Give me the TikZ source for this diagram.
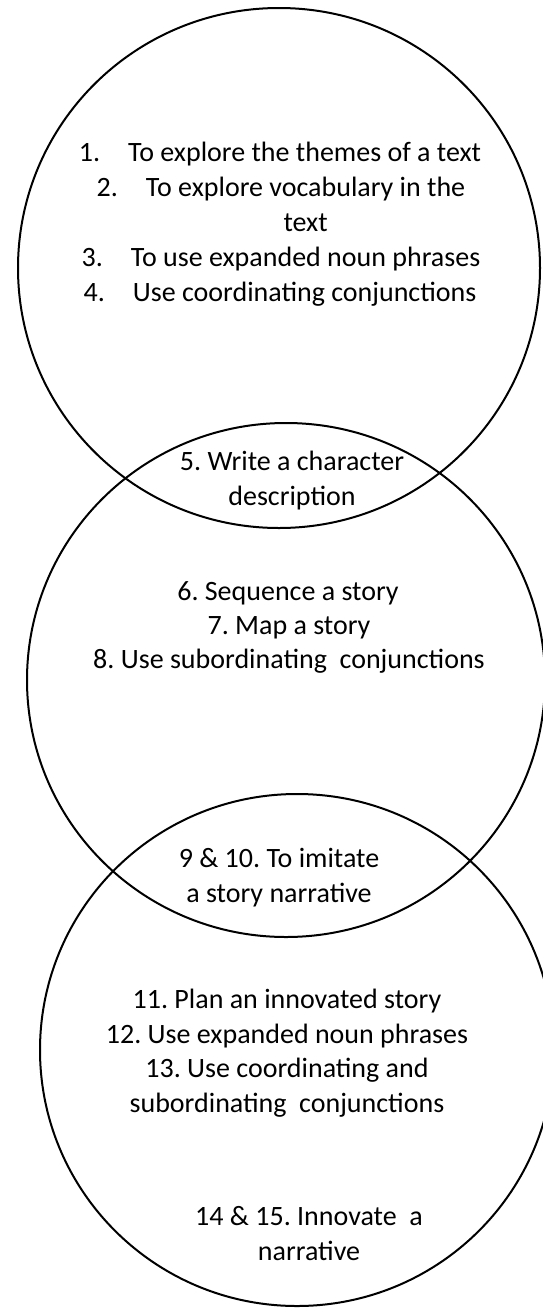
\documentclass[tikz,border=0pt]{standalone}
\usepackage{fontspec}
\setmainfont{Carlito}
\frenchspacing
\usetikzlibrary{calc}

\begin{document}
\begin{tikzpicture}[x=1pt,y=-1pt,
  ring/.style={line width=2pt,color=black},
  lbl/.style={align=center,inner sep=0pt,anchor=base,font=\fontsize{28}{35}\selectfont}]
\useasboundingbox (0,0) rectangle (542,1309);

% Step 1. the three rings
\draw[ring] (279,268) ellipse [x radius=261,y radius=260];
\draw[ring] (286,680) ellipse [x radius=259,y radius=257];
\draw[ring] (297,1050) ellipse [x radius=257,y radius=256];

% Step 2. top ring
\node[lbl] (ItemA) at (280,161) {1.\quad To explore the themes of a text};
\node[lbl] (ItemB) at (281,231) {2.\quad To explore vocabulary in the\\\phantom{2.\quad}text};
\node[lbl] (ItemC) at (281,266) {3.\quad To use expanded noun phrases};
\node[lbl] (ItemD) at (280,301) {4.\quad Use coordinating conjunctions};

% Step 3. first overlap
\node[lbl] (ItemE) at (292,505) {5. Write a character\\description};

% Step 4. middle ring
\node[lbl] (ItemF) at (288,600) {6. Sequence a story};
\node[lbl] (ItemG) at (289,634) {7. Map a story};
\node[lbl] (ItemH) at (289,668) {8. Use subordinating\ \ conjunctions};

% Step 5. second overlap
\node[lbl] (ItemI) at (279,902) {9 \& 10. To imitate\\a story narrative};

% Step 6. bottom ring
\node[lbl] (ItemJ) at (287,1008) {11. Plan an innovated story};
\node[lbl] (ItemK) at (287,1043) {12. Use expanded noun phrases};
\node[lbl] (ItemL) at (287,1112) {13. Use coordinating and\\subordinating\ \ conjunctions};
\node[lbl] (ItemM) at (309,1260) {14 \& 15. Innovate\ \ a\\narrative};

\end{tikzpicture}
\end{document}
